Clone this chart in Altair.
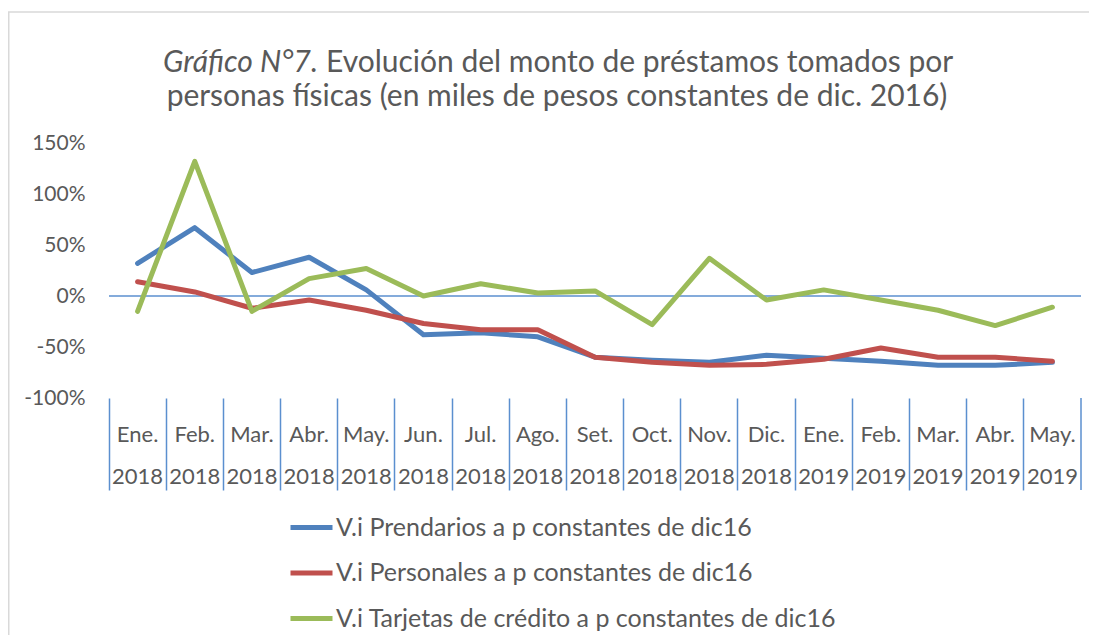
import altair as alt
import pandas as pd

# ---- data -------------------------------------------------------------
months = ["Ene. 2018", "Feb. 2018", "Mar. 2018", "Abr. 2018", "May. 2018",
          "Jun. 2018", "Jul. 2018", "Ago. 2018", "Set. 2018", "Oct. 2018",
          "Nov. 2018", "Dic. 2018", "Ene. 2019", "Feb. 2019", "Mar. 2019",
          "Abr. 2019", "May. 2019"]

series_names = ["V.i Prendarios a p constantes de dic16",
                "V.i Personales a p constantes de dic16",
                "V.i Tarjetas de crédito a p constantes de dic16"]

prendarios = [32, 67, 23, 38, 6, -38, -36, -40, -60, -63, -65, -58, -61, -64, -68, -68, -65]
personales = [14, 4, -12, -4, -14, -27, -33, -33, -60, -65, -68, -67, -62, -51, -60, -60, -64]
tarjetas = [-15, 132, -15, 17, 27, 0, 12, 3, 5, -28, 37, -4, 6, -4, -14, -29, -11]

y_ticks = [-1, -0.5, 0, 0.5, 1, 1.5]

title_italic = "Gráfico N°7."
title_line1 = "Evolución del monto de préstamos tomados por"
title_line2 = "personas físicas (en miles de pesos constantes de dic. 2016)"

colors = ["#4F81BD", "#C0504D", "#9BBB59"]
axis_blue = "#5B8FCF"
grey_text = "#595959"
FONT = "Lato"

rows = []
for name, vals in zip(series_names, [prendarios, personales, tarjetas]):
    for m, v in zip(months, vals):
        rows.append({"mes": m, "serie": name, "valor": v / 100})
df = pd.DataFrame(rows)
one = pd.DataFrame({"a": [0]})

W, H = 972, 255

frame = alt.Chart(one).mark_rect(fillOpacity=0, stroke="#D9D9D9", strokeWidth=1.5).encode(
    x=alt.value(-100.25), x2=alt.value(1200), y=alt.value(-131), y2=alt.value(700)
)

zero = alt.Chart(one).mark_rule(color=axis_blue, strokeWidth=1.5).encode(y=alt.datum(0))

lines = alt.Chart(df).mark_line(strokeWidth=5, strokeCap="round", strokeJoin="round").encode(
    x=alt.X("mes:N", sort=months, bandPosition=0.5,
            scale=alt.Scale(type="band", paddingInner=0, paddingOuter=0),
            axis=alt.Axis(title=None, labelAngle=0,
                          labelExpr="split(datum.label, ' ')",
                          labelLineHeight=42, labelBaseline="middle",
                          labelPadding=-56, tickSize=92, tickColor=axis_blue,
                          tickWidth=1.5, bandPosition=0, domain=False, grid=False,
                          labelFontSize=22, labelColor=grey_text, labelFont=FONT)),
    y=alt.Y("valor:Q", scale=alt.Scale(domain=[-1, 1.5], nice=False),
            axis=alt.Axis(title=None, values=y_ticks,
                          labelExpr="(datum.value < 0 ? '-' : '') + format(abs(datum.value), '.0%')",
                          ticks=False, domain=False, labelPadding=24, gridColor="#D9D9D9",
                          gridWidth=1.5, labelFontSize=21, labelColor=grey_text,
                          labelFont=FONT)),
    color=alt.Color("serie:N", sort=series_names,
                    scale=alt.Scale(domain=series_names, range=colors),
                    legend=alt.Legend(title=None, orient="none", legendX=179, legendY=361,
                                      symbolType="stroke", symbolSize=1764,
                                      symbolStrokeWidth=5, labelFontSize=25,
                                      labelColor=grey_text, labelFont=FONT,
                                      labelOffset=1, rowPadding=8.5, padding=0,
                                      direction="vertical", labelLimit=800)),
)

right_sep = alt.Chart(one).mark_rule(color=axis_blue, strokeWidth=1.5).encode(
    x=alt.value(W), y=alt.value(H), y2=alt.value(H + 92)
)

t1a = alt.Chart(one).mark_text(font=FONT, fontSize=30, fontStyle="italic", align="right",
                               baseline="alphabetic", color=grey_text).encode(
    x=alt.value(209), y=alt.value(-71), text=alt.value(title_italic))
t1b = alt.Chart(one).mark_text(font=FONT, fontSize=30, align="left",
                               baseline="alphabetic", color=grey_text).encode(
    x=alt.value(217), y=alt.value(-71), text=alt.value(title_line1))
t2 = alt.Chart(one).mark_text(font=FONT, fontSize=30, align="center",
                              baseline="alphabetic", color=grey_text).encode(
    x=alt.value(448), y=alt.value(-37), text=alt.value(title_line2))

chart = alt.layer(frame, zero, lines, right_sep, t1a, t1b, t2).properties(
    width=W, height=H,
    autosize=alt.AutoSizeParams(type="none"),
    padding={"left": 101, "top": 135, "right": 8, "bottom": 237},
    background="white",
).configure_view(stroke=None)

chart.save("out.html", embed_options={"renderer": "svg", "actions": False})
